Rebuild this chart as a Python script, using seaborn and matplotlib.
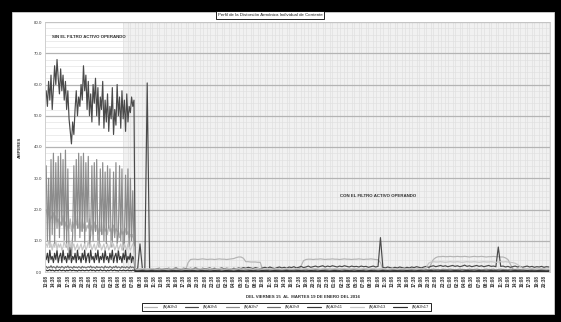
import matplotlib
matplotlib.use("Agg")
import matplotlib.pyplot as plt
from matplotlib.patches import Rectangle
from matplotlib.ticker import FixedLocator, MultipleLocator
import numpy as np
import pandas as pd
import seaborn as sns

# Etiquetas de hora del eje X (una cada 3 muestras de 30 min)
horas = [
    "13:08", "14:38", "16:08", "17:38", "19:08", "20:38", "22:08", "23:38",
    "01:08", "02:38", "04:08", "05:38", "07:08", "08:38", "10:08", "11:38",
    "13:08", "14:38", "16:08", "17:38", "19:08", "20:38", "22:08", "23:38",
    "01:08", "02:38", "04:08", "05:38", "07:08", "08:38", "10:08", "11:38",
    "13:08", "14:38", "16:08", "17:38", "19:08", "20:38", "22:08", "23:38",
    "01:08", "02:38", "04:08", "05:38", "07:08", "08:38", "10:08", "11:38",
    "13:08", "14:38", "16:08", "17:38", "19:08", "20:38", "22:08", "23:38",
    "01:08", "02:38", "04:08", "05:38", "07:08", "08:38", "10:08", "11:38",
    "13:08", "14:38", "16:08", "17:38", "19:08", "20:38",
]

# Sin filtro: registro cada 15 min (74 muestras, de 0 a 36.5)
# Con filtro: registro cada 30 min (173 muestras, de 37 a 209)
h3_sin = [
    20, 18, 19, 16, 18, 17, 19, 15, 18, 16,
    17, 14, 16, 15, 18, 14, 16, 13, 15, 14,
    17, 13, 16, 14, 17, 15, 18, 14, 16, 13,
    17, 14, 16, 13, 15, 14, 17, 13, 15, 12,
    16, 13, 15, 12, 14, 13, 16, 12, 15, 13,
    14, 12, 15, 13, 14, 11, 15, 12, 14, 13,
    13, 11, 14, 12, 13, 11, 14, 12, 13, 11,
    12, 11, 12, 10,
]
h3_con = [
    0.6, 0.5, 0.6,
    0.6, 0.5, 0.7, 0.6, 0.5, 0.6, 0.7, 0.6, 0.5, 0.6,
    0.6, 0.5, 0.6, 0.7, 0.6, 0.5, 0.6, 0.7, 0.6, 3.0,
    4.0, 4.1, 4.1, 4.0, 4.1, 4.2, 4.1, 4.0, 4.1, 4.1,
    4.0, 4.1, 4.2, 4.1, 4.1, 4.0, 4.1, 4.2, 4.3, 4.6,
    4.8, 4.8, 4.4, 3.3, 3.3, 3.2, 3.2, 3.2, 3.1, 3.1,
    0.7, 0.6, 0.6, 0.5, 0.6, 0.7, 0.6, 0.5, 0.6, 0.6,
    0.7, 0.6, 0.5, 0.6, 0.7, 0.6, 2.0, 3.6, 4.0, 4.1,
    4.1, 4.0, 4.1, 4.1, 4.2, 4.1, 4.0, 4.1, 4.1, 4.2,
    4.1, 4.1, 4.0, 4.1, 4.2, 4.1, 4.1, 4.0, 4.1, 4.1,
    4.2, 4.1, 4.0, 4.1, 4.1, 4.2, 4.1, 4.0, 3.9, 3.0,
    0.8, 0.6, 0.7, 0.6, 0.5, 0.6, 0.7, 0.6, 0.5, 0.6,
    0.7, 0.6, 0.5, 0.6, 0.7, 0.6, 0.5, 0.6, 0.7, 0.8,
    2.5, 4.0, 4.6, 4.9, 4.9, 5.0, 4.9, 4.9, 5.0, 4.9,
    4.9, 5.0, 4.9, 4.9, 5.0, 4.9, 4.8, 4.9, 5.0, 4.9,
    4.9, 5.0, 4.9, 4.8, 4.9, 4.9, 5.0, 4.9, 4.9, 4.8,
    4.8, 4.5, 4.0, 2.5, 1.0, 0.7, 0.6, 0.5, 0.6, 0.7,
    0.6, 0.5, 0.6, 0.7, 0.6, 0.5, 0.6, 0.7, 0.6, 0.5,
]

h5_sin = [
    58, 53, 61, 55, 63, 52, 59, 66, 60, 68,
    62, 57, 65, 58, 63, 55, 61, 52, 58, 49,
    45, 41, 48, 44, 52, 58, 50, 56, 53, 60,
    55, 66, 58, 63, 52, 61, 50, 57, 48, 60,
    54, 62, 50, 59, 47, 56, 52, 61, 46, 55,
    48, 57, 45, 53, 49, 59, 44, 52, 47, 60,
    50, 56, 46, 58, 49, 55, 45, 57, 48, 53,
    51, 56, 53, 55,
]
h5_con = [
    1.2, 0.9, 9.0,
    1.0, 0.8, 60.5, 0.9, 1.1, 0.8, 1.0, 1.2, 0.9, 1.1,
    1.0, 1.2, 0.9, 1.1, 1.3, 1.0, 0.9, 1.2, 1.1, 1.0,
    1.2, 1.0, 1.3, 1.1, 0.9, 1.2, 1.0, 1.1, 1.3, 1.0,
    1.2, 0.9, 1.1, 1.3, 1.0, 1.2, 1.1, 0.9, 1.2, 1.0,
    1.3, 1.1, 1.4, 1.2, 1.5, 1.3, 1.1, 1.4, 1.2, 1.0,
    1.3, 1.5, 1.2, 1.6, 1.3, 1.1, 1.4, 1.6, 1.3, 1.5,
    1.2, 1.6, 1.4, 1.7, 1.3, 1.5, 1.8, 1.4, 1.6, 1.9,
    1.5, 1.7, 1.9, 1.6, 1.8, 2.0, 1.6, 1.9, 1.7, 2.0,
    1.8, 1.6, 1.9, 1.7, 2.0, 1.8, 1.6, 1.9, 1.7, 1.8,
    1.6, 1.9, 1.7, 1.8, 1.5, 1.7, 1.9, 1.6, 1.8, 11.0,
    1.5, 1.3, 1.6, 1.4, 1.2, 1.5, 1.3, 1.6, 1.4, 1.2,
    1.5, 1.3, 1.6, 1.4, 1.7, 1.5, 1.3, 1.6, 1.8, 1.5,
    1.8, 2.0, 1.7, 1.9, 2.1, 1.8, 2.0, 1.7, 1.9, 2.1,
    1.8, 2.0, 1.7, 1.9, 2.2, 1.8, 2.0, 1.7, 1.9, 2.1,
    1.8, 2.0, 1.7, 1.9, 2.1, 1.8, 1.9, 1.7, 8.0, 1.8,
    1.9, 1.6, 1.8, 1.5, 1.7, 1.9, 1.6, 1.8, 1.5, 1.7,
    1.9, 1.6, 1.8, 1.5, 1.7, 1.6, 1.8, 1.5, 1.7, 1.6,
]

h7_sin = [
    34, 10, 30, 8, 36, 12, 38, 9, 35, 14,
    37, 11, 38, 15, 36, 10, 39, 8, 33, 6,
    8, 5, 12, 34, 10, 36, 14, 38, 11, 37,
    13, 38, 9, 35, 16, 37, 8, 12, 34, 10,
    35, 13, 36, 9, 8, 33, 12, 35, 10, 32,
    9, 34, 14, 33, 8, 10, 32, 11, 35, 9,
    12, 34, 10, 33, 7, 9, 31, 12, 33, 8,
    30, 10, 26, 9,
]
h7_con = [
    0.8, 0.7, 0.9,
    0.8, 0.7, 0.9, 0.8, 0.7, 0.8, 0.9, 0.7, 0.8, 0.9,
    0.8, 0.9, 0.7, 0.8, 0.9, 0.8, 0.7, 0.9, 0.8, 0.8,
    0.9, 0.8, 0.7, 0.8, 0.9, 0.8, 0.8, 0.7, 0.9, 0.8,
    0.8, 0.9, 0.8, 0.7, 0.8, 0.9, 0.8, 0.7, 0.8, 0.9,
    0.8, 0.7, 0.9, 0.8, 0.8, 0.9, 0.7, 0.8, 0.9, 0.8,
    0.9, 0.8, 0.7, 0.9, 0.8, 0.8, 0.9, 0.8, 0.7, 0.8,
    0.8, 0.9, 0.8, 0.7, 0.8, 0.9, 0.8, 0.8, 0.9, 0.7,
    0.8, 0.9, 0.8, 0.8, 0.7, 0.9, 0.8, 0.8, 0.9, 0.8,
    0.7, 0.8, 0.9, 0.8, 0.8, 0.7, 0.9, 0.8, 0.8, 0.9,
    0.8, 0.7, 0.8, 0.9, 0.8, 0.8, 0.9, 0.7, 0.8, 0.9,
    0.8, 0.8, 0.7, 0.9, 0.8, 0.8, 0.9, 0.8, 0.7, 0.8,
    0.9, 0.8, 0.8, 0.7, 0.9, 0.8, 0.8, 0.9, 0.8, 0.7,
    0.8, 0.9, 0.8, 0.8, 0.7, 0.9, 0.8, 0.8, 0.9, 0.8,
    0.7, 0.8, 0.9, 0.8, 0.8, 0.7, 0.9, 0.8, 0.8, 0.9,
    0.8, 0.7, 0.8, 0.9, 0.8, 0.8, 0.9, 0.7, 0.8, 0.9,
    0.8, 0.8, 0.7, 0.9, 0.8, 0.8, 0.9, 0.8, 0.7, 0.8,
    0.9, 0.8, 0.8, 0.7, 0.9, 0.8, 0.8, 0.9, 0.8, 0.7,
]

h9_sin = [
    1.8, 1.2, 1.6, 1.4, 2.0, 1.3, 1.7, 1.5, 1.2, 1.9,
    1.4, 1.6, 1.3, 1.8, 1.5, 1.2, 1.7, 1.4, 1.9, 1.3,
    1.6, 1.5, 1.2, 1.8, 1.4, 1.6, 1.3, 1.7, 1.5, 1.2,
    1.8, 1.4, 1.6, 1.3, 1.5, 1.7, 1.4, 1.9, 1.3, 1.6,
    1.5, 1.2, 1.8, 1.4, 1.6, 1.3, 1.7, 1.5, 1.2, 1.9,
    1.4, 1.6, 1.3, 1.8, 1.5, 1.2, 1.7, 1.4, 1.9, 1.3,
    1.6, 1.5, 1.2, 1.8, 1.4, 1.6, 1.3, 1.7, 1.5, 1.2,
    1.8, 1.4, 1.6, 1.4,
]
h9_con = [
    0.3, 0.3, 0.4,
    0.3, 0.3, 0.4, 0.3, 0.2, 0.3, 0.3, 0.4, 0.3, 0.3,
    0.2, 0.3, 0.3, 0.4, 0.3, 0.3, 0.2, 0.3, 0.4, 0.3,
    0.3, 0.2, 0.3, 0.3, 0.4, 0.3, 0.3, 0.2, 0.3, 0.3,
    0.4, 0.3, 0.3, 0.2, 0.3, 0.4, 0.3, 0.3, 0.2, 0.3,
    0.3, 0.4, 0.3, 0.3, 0.2, 0.3, 0.3, 0.4, 0.3, 0.3,
    0.2, 0.3, 0.4, 0.3, 0.3, 0.2, 0.3, 0.3, 0.4, 0.3,
    0.3, 0.2, 0.3, 0.4, 0.3, 0.3, 0.2, 0.3, 0.3, 0.4,
    0.3, 0.3, 0.2, 0.3, 0.4, 0.3, 0.3, 0.2, 0.3, 0.3,
    0.4, 0.3, 0.3, 0.2, 0.3, 0.4, 0.3, 0.3, 0.2, 0.3,
    0.3, 0.4, 0.3, 0.3, 0.2, 0.3, 0.3, 0.4, 0.3, 0.3,
    0.2, 0.3, 0.4, 0.3, 0.3, 0.2, 0.3, 0.3, 0.4, 0.3,
    0.3, 0.2, 0.3, 0.4, 0.3, 0.3, 0.2, 0.3, 0.3, 0.4,
    0.3, 0.3, 0.2, 0.3, 0.4, 0.3, 0.3, 0.2, 0.3, 0.3,
    0.4, 0.3, 0.3, 0.2, 0.3, 0.4, 0.3, 0.3, 0.2, 0.3,
    0.3, 0.4, 0.3, 0.3, 0.2, 0.3, 0.3, 0.4, 0.3, 0.3,
    0.2, 0.3, 0.4, 0.3, 0.3, 0.2, 0.3, 0.3, 0.4, 0.3,
    0.3, 0.2, 0.3, 0.4, 0.3, 0.3, 0.2, 0.3, 0.3, 0.4,
]

h11_sin = [
    4, 6, 3, 7, 4, 5, 3, 6, 4, 7,
    3, 5, 6, 3, 7, 4, 5, 3, 6, 4,
    7, 3, 5, 4, 6, 3, 7, 4, 5, 3,
    6, 4, 7, 3, 5, 6, 3, 7, 4, 5,
    3, 6, 4, 7, 3, 5, 4, 6, 3, 7,
    4, 5, 3, 6, 4, 7, 3, 5, 6, 3,
    7, 4, 5, 3, 6, 4, 7, 3, 5, 4,
    6, 3, 5, 4,
]
h11_con = [
    0.4, 0.3, 0.4,
    0.5, 0.4, 0.3, 0.4, 0.5, 0.4, 0.4, 0.3, 0.4, 0.5,
    0.4, 0.3, 0.4, 0.5, 0.4, 0.4, 0.3, 0.4, 0.5, 0.4,
    0.4, 0.5, 0.4, 0.3, 0.4, 0.5, 0.4, 0.4, 0.3, 0.4,
    0.5, 0.4, 0.4, 0.3, 0.4, 0.5, 0.4, 0.4, 0.3, 0.4,
    0.5, 0.4, 0.4, 0.3, 0.4, 0.5, 0.4, 0.4, 0.3, 0.4,
    0.5, 0.4, 0.4, 0.3, 0.4, 0.5, 0.4, 0.4, 0.3, 0.4,
    0.5, 0.4, 0.4, 0.3, 0.4, 0.5, 0.4, 0.4, 0.3, 0.4,
    0.5, 0.4, 0.4, 0.3, 0.4, 0.5, 0.4, 0.4, 0.3, 0.4,
    0.5, 0.4, 0.4, 0.3, 0.4, 0.5, 0.4, 0.4, 0.3, 0.4,
    0.5, 0.4, 0.4, 0.3, 0.4, 0.5, 0.4, 0.4, 0.3, 0.4,
    0.5, 0.4, 0.4, 0.3, 0.4, 0.5, 0.4, 0.4, 0.3, 0.4,
    0.5, 0.4, 0.4, 0.3, 0.4, 0.5, 0.4, 0.4, 0.3, 0.4,
    0.5, 0.4, 0.4, 0.3, 0.4, 0.5, 0.4, 0.4, 0.3, 0.4,
    0.5, 0.4, 0.4, 0.3, 0.4, 0.5, 0.4, 0.4, 0.3, 0.4,
    0.5, 0.4, 0.4, 0.3, 0.4, 0.5, 0.4, 0.4, 0.3, 0.4,
    0.5, 0.4, 0.4, 0.3, 0.4, 0.5, 0.4, 0.4, 0.3, 0.4,
    0.5, 0.4, 0.4, 0.3, 0.4, 0.5, 0.4, 0.4, 0.3, 0.4,
]

h13_sin = [
    9, 8, 10, 8, 9, 7, 9, 8, 10, 7,
    9, 8, 9, 7, 8, 10, 8, 9, 7, 9,
    8, 10, 8, 9, 7, 8, 9, 7, 8, 9,
    7, 8, 9, 7, 8, 10, 8, 9, 7, 8,
    9, 7, 8, 10, 8, 9, 7, 8, 9, 7,
    8, 9, 7, 8, 10, 8, 9, 7, 8, 9,
    7, 8, 9, 7, 8, 9, 8, 7, 9, 8,
    7, 8, 9, 8,
]
h13_con = [
    1.0, 0.9, 1.0,
    1.1, 1.0, 0.9, 1.0, 1.1, 1.0, 0.9, 1.0, 1.1, 1.0,
    0.9, 1.0, 1.1, 1.0, 0.9, 1.0, 1.1, 1.0, 0.9, 1.0,
    1.1, 1.0, 0.9, 1.0, 1.1, 1.0, 0.9, 1.0, 1.1, 1.0,
    0.9, 1.0, 1.1, 1.0, 0.9, 1.0, 1.1, 1.0, 0.9, 1.0,
    1.1, 1.0, 0.9, 1.0, 1.1, 1.0, 0.9, 1.0, 1.1, 1.0,
    0.9, 1.0, 1.1, 1.0, 0.9, 1.0, 1.1, 1.0, 0.9, 1.0,
    1.1, 1.0, 0.9, 1.0, 1.1, 1.0, 0.9, 1.0, 1.1, 1.0,
    0.9, 1.0, 1.1, 1.0, 0.9, 1.0, 1.1, 1.0, 0.9, 1.0,
    1.1, 1.0, 0.9, 1.0, 1.1, 1.0, 0.9, 1.0, 1.1, 1.0,
    0.9, 1.0, 1.1, 1.0, 0.9, 1.0, 1.1, 1.0, 0.9, 1.0,
    1.1, 1.0, 0.9, 1.0, 1.1, 1.0, 0.9, 1.0, 1.1, 1.0,
    0.9, 1.0, 1.1, 1.0, 0.9, 1.0, 1.1, 1.0, 1.2, 2.8,
    3.2, 3.3, 3.2, 3.2, 3.3, 3.2, 3.1, 3.2, 3.3, 3.2,
    3.2, 3.3, 3.2, 3.1, 3.2, 3.3, 3.2, 3.2, 3.3, 3.2,
    3.1, 3.2, 3.3, 3.2, 3.2, 3.3, 3.2, 3.1, 3.2, 3.3,
    3.2, 3.3, 3.2, 3.1, 3.0, 2.8, 2.4, 1.8, 1.2, 1.0,
    0.9, 1.0, 1.1, 1.0, 0.9, 1.0, 1.1, 1.0, 0.9, 1.0,
]

h17_sin = [
    0.6, 0.4, 0.5, 0.7, 0.4, 0.6, 0.5, 0.3, 0.6, 0.5,
    0.4, 0.7, 0.5, 0.4, 0.6, 0.5, 0.3, 0.6, 0.4, 0.5,
    0.7, 0.4, 0.5, 0.6, 0.4, 0.5, 0.3, 0.6, 0.5, 0.4,
    0.6, 0.5, 0.4, 0.5, 0.6, 0.4, 0.5, 0.7, 0.4, 0.6,
    0.5, 0.3, 0.6, 0.5, 0.4, 0.7, 0.5, 0.4, 0.6, 0.5,
    0.3, 0.6, 0.4, 0.5, 0.7, 0.4, 0.5, 0.6, 0.4, 0.5,
    0.3, 0.6, 0.5, 0.4, 0.6, 0.5, 0.4, 0.5, 0.6, 0.4,
    0.5, 0.4, 0.6, 0.5,
]
h17_con = [
    0.2, 0.2, 0.2,
    0.2, 0.1, 0.2, 0.2, 0.2, 0.1, 0.2, 0.2, 0.2, 0.1,
    0.2, 0.2, 0.2, 0.1, 0.2, 0.2, 0.2, 0.1, 0.2, 0.2,
    0.2, 0.1, 0.2, 0.2, 0.2, 0.1, 0.2, 0.2, 0.2, 0.1,
    0.2, 0.2, 0.2, 0.1, 0.2, 0.2, 0.2, 0.1, 0.2, 0.2,
    0.2, 0.1, 0.2, 0.2, 0.2, 0.1, 0.2, 0.2, 0.2, 0.1,
    0.2, 0.2, 0.2, 0.1, 0.2, 0.2, 0.2, 0.1, 0.2, 0.2,
    0.2, 0.1, 0.2, 0.2, 0.2, 0.1, 0.2, 0.2, 0.2, 0.1,
    0.2, 0.2, 0.2, 0.1, 0.2, 0.2, 0.2, 0.1, 0.2, 0.2,
    0.2, 0.1, 0.2, 0.2, 0.2, 0.1, 0.2, 0.2, 0.2, 0.1,
    0.2, 0.2, 0.2, 0.1, 0.2, 0.2, 0.2, 0.1, 0.2, 0.2,
    0.2, 0.1, 0.2, 0.2, 0.2, 0.1, 0.2, 0.2, 0.2, 0.1,
    0.2, 0.2, 0.2, 0.1, 0.2, 0.2, 0.2, 0.1, 0.2, 0.2,
    0.2, 0.1, 0.2, 0.2, 0.2, 0.1, 0.2, 0.2, 0.2, 0.1,
    0.2, 0.2, 0.2, 0.1, 0.2, 0.2, 0.2, 0.1, 0.2, 0.2,
    0.2, 0.1, 0.2, 0.2, 0.2, 0.1, 0.2, 0.2, 0.2, 0.1,
    0.2, 0.2, 0.2, 0.1, 0.2, 0.2, 0.2, 0.1, 0.2, 0.2,
    0.2, 0.1, 0.2, 0.2, 0.2, 0.1, 0.2, 0.2, 0.2, 0.1,
]

nombres = ["(A)A2h3", "(A)A2h5", "(A)A2h7", "(A)A2h9",
           "(A)A2h11", "(A)A2h13", "(A)A2h17"]
sin_filtro = [h3_sin, h5_sin, h7_sin, h9_sin, h11_sin, h13_sin, h17_sin]
con_filtro = [h3_con, h5_con, h7_con, h9_con, h11_con, h13_con, h17_con]
colores = ["#b4b4b4", "#4a4a4a", "#8c8c8c", "#6e6e6e",
           "#3a3a3a", "#c6c6c6", "#2e2e2e"]

t_sin = np.arange(len(h5_sin)) * 0.5
t_con = np.arange(len(h5_sin) // 2, len(h5_sin) // 2 + len(h5_con))
n = int(t_con[-1]) + 1

filas = []
for nombre, a, b in zip(nombres, sin_filtro, con_filtro):
    for t, v in zip(t_sin, a):
        filas.append({"muestra": t, "serie": nombre, "amperes": v})
    for t, v in zip(t_con, b):
        filas.append({"muestra": t, "serie": nombre, "amperes": v})
df = pd.DataFrame(filas)

sns.set_theme(style="white")
plt.rcParams["font.family"] = ["Liberation Sans", "DejaVu Sans"]

W, H = 561, 322
fig = plt.figure(figsize=(W / 100, H / 100), dpi=100, facecolor="black")
fig.patches.append(Rectangle((12 / W, 8 / H), (554 - 12) / W, (312 - 10) / H,
                             transform=fig.transFigure, facecolor="white",
                             edgecolor="#d0d0d0", lw=0.6, zorder=-5))

ax = fig.add_axes([45 / W, 50 / H, 505 / W, 250 / H])
ax.set_facecolor("#f1f1f1")
ax.set_axisbelow(True)
# zona inicial sin filtro, fondo blanco
ax.axvspan(-0.5, 32, color="white", zorder=0.2, lw=0)

sns.lineplot(data=df, x="muestra", y="amperes", hue="serie",
             hue_order=nombres, palette=dict(zip(nombres, colores)),
             lw=0.85, ax=ax, legend=True, sort=False)

ax.set_xlim(-0.5, n - 0.5)
ax.set_ylim(0, 80)
ax.yaxis.set_minor_locator(MultipleLocator(2))
ax.set_yticks(np.arange(0, 81, 10))
ax.set_yticklabels([f"{v:.1f}" for v in np.arange(0, 81, 10)],
                   fontsize=3.2, color="#404040")
ticks = np.arange(0, 3 * len(horas), 3)
ax.set_xticks(ticks)
ax.set_xticklabels(horas, rotation=90, fontsize=3.3, color="#303030",
                   fontweight="bold")
ax.xaxis.set_minor_locator(FixedLocator(np.arange(32, n)))
ax.tick_params(axis="both", which="both", length=0, pad=2)

ax.grid(which="major", axis="y", color="#b4b4b4", lw=0.9)
ax.grid(which="minor", axis="y", color="#dedede", lw=0.4)
ax.grid(which="minor", axis="x", color="#dcdcdc", lw=0.4)
for s in ax.spines.values():
    s.set_color("#c8c8c8")
    s.set_linewidth(0.6)

ax.set_xlabel("DEL VIERNES 15  AL  MARTES 19 DE ENERO DEL 2016",
              fontsize=3.2, fontweight="bold", color="#303030")
ax.xaxis.set_label_coords(0.51, -0.09)
ax.set_ylabel("AMPERES", fontsize=3.2, fontweight="bold", color="#303030")
ax.yaxis.set_label_coords(-0.045, 0.5)

ax.text(2.4, 75.2, "SIN EL FILTRO ACTIVO OPERANDO", fontsize=3.2,
        fontweight="bold", color="#303030", va="center")
ax.text(122, 24.3, "CON EL FILTRO ACTIVO OPERANDO", fontsize=3.2,
        fontweight="bold", color="#303030", va="center")

fig.text(270 / W, 1 - 15 / H,
         "Perfil de la Distorsión Armónica Individual de Corriente",
         fontsize=3.2, ha="center", va="center", color="#202020",
         bbox=dict(boxstyle="square,pad=0.4", fc="white", ec="black", lw=0.6))

handles, labels = ax.get_legend_handles_labels()
ax.legend(handles, labels, loc="center", bbox_to_anchor=(286.5 / W, 1 - 307 / H),
          bbox_transform=fig.transFigure, ncol=7, fontsize=3.0,
          frameon=True, fancybox=False, edgecolor="black", framealpha=1,
          handlelength=3.2, columnspacing=1.8, handletextpad=1.2,
          borderpad=0.5)
ax.get_legend().get_frame().set_linewidth(0.6)

fig.savefig("out.png", dpi=100, facecolor=fig.get_facecolor())
